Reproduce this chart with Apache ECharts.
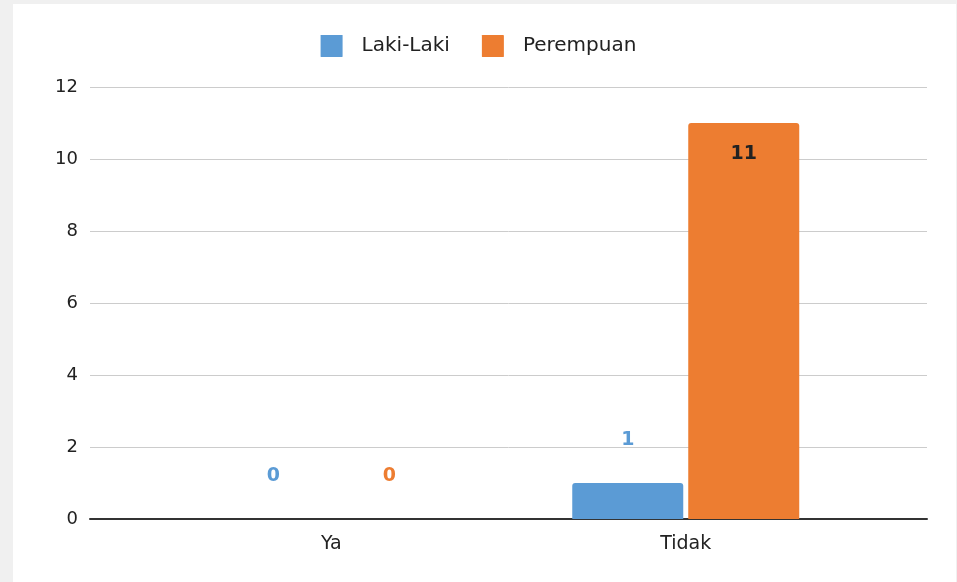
<!DOCTYPE html>
<html>
<head>
<meta charset="utf-8">
<script src="https://cdn.jsdelivr.net/npm/echarts@6/dist/echarts.min.js"></script>
<style>
html,body{margin:0;padding:0;background:#f0f0f0;}
#c{width:957px;height:582px;}
</style>
</head>
<body>
<div id="c"></div>
<script>
var categories = ['Ya', 'Tidak'];
var lakiLaki = [0, 1];
var perempuan = [0, 11];
var seriesNames = ['Laki-Laki', 'Perempuan'];
var colors = ['#5B9BD5', '#ED7D31'];
var yMin = 0, yMax = 12, yStep = 2;

var FONT = 'DejaVu Sans';
var chart = echarts.init(document.getElementById('c'));

function labelFor(values) {
  return values.map(function (v) {
    if (v >= 5) {
      return { value: v, label: { position: 'insideTop', distance: 22, color: '#222' } };
    }
    return v;
  });
}

var squareIcon = 'path://M2,0 L98,0 Q100,0 100,2 L100,98 Q100,100 98,100 L2,100 Q0,100 0,98 L0,2 Q0,0 2,0 Z';

chart.setOption({
  animation: false,
  backgroundColor: '#f0f0f0',
  textStyle: { fontFamily: FONT },
  graphic: [{
    type: 'rect', z: -10, silent: true,
    shape: { x: 13, y: 4, width: 943, height: 578 },
    style: { fill: '#ffffff' }
  }],
  legend: {
    top: 30, left: 'center',
    itemWidth: 24, itemHeight: 22, itemGap: 32,
    icon: squareIcon,
    textStyle: { fontFamily: FONT, fontSize: 20, color: '#222', padding: [0, 0, 0, 13] },
    data: seriesNames
  },
  grid: [
    { left: 90, right: 30, top: 87, bottom: 63, containLabel: false },
    { left: 154, right: 94, top: 87, bottom: 63, containLabel: false }
  ],
  xAxis: [
    { gridIndex: 0, type: 'category', data: categories,
      axisLine: { show: true, lineStyle: { color: '#333', width: 2 } },
      axisTick: { show: false }, axisLabel: { show: false } },
    { gridIndex: 1, type: 'category', data: categories,
      axisLine: { show: false }, axisTick: { show: false },
      axisLabel: { fontFamily: FONT, fontSize: 19, color: '#222', margin: 16 } }
  ],
  yAxis: [
    { gridIndex: 0, type: 'value', min: yMin, max: yMax, interval: yStep,
      axisLine: { show: false }, axisTick: { show: false },
      axisLabel: { fontFamily: FONT, fontSize: 18, color: '#222', margin: 12 },
      splitLine: { lineStyle: { color: '#cccccc', width: 1 } } },
    { gridIndex: 1, type: 'value', min: yMin, max: yMax, interval: yStep, show: false,
      splitLine: { show: false } }
  ],
  series: [
    { name: seriesNames[0], type: 'bar', xAxisIndex: 1, yAxisIndex: 1,
      data: labelFor(lakiLaki), barWidth: 111, barGap: '4.5%',
      itemStyle: { color: colors[0], borderRadius: [3, 3, 0, 0] },
      label: { show: true, position: 'top', distance: 33, color: colors[0],
        fontFamily: FONT, fontSize: 19, fontWeight: 'bold' } },
    { name: seriesNames[1], type: 'bar', xAxisIndex: 1, yAxisIndex: 1,
      data: labelFor(perempuan), barWidth: 111, barGap: '4.5%',
      itemStyle: { color: colors[1], borderRadius: [3, 3, 0, 0] },
      label: { show: true, position: 'top', distance: 33, color: colors[1],
        fontFamily: FONT, fontSize: 19, fontWeight: 'bold' } }
  ]
});
</script>
</body>
</html>
